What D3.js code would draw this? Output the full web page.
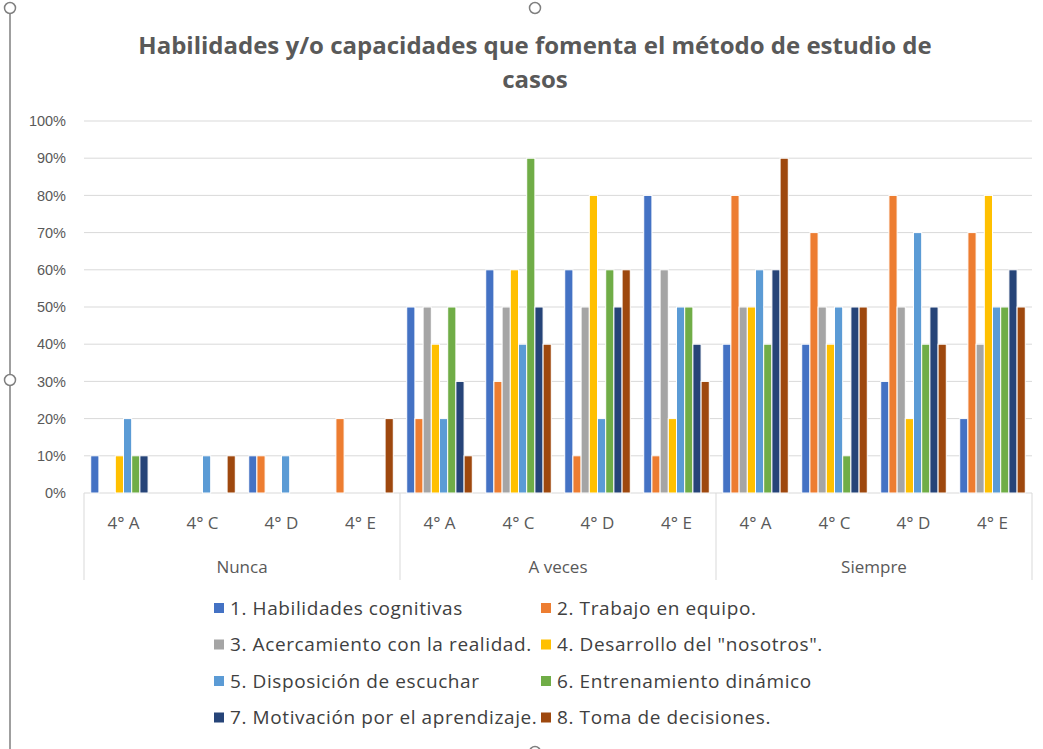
<!DOCTYPE html>
<html>
<head>
<meta charset="utf-8">
<script src="https://cdn.jsdelivr.net/npm/d3@7"></script>
<style>
  body { margin: 0; background: #fff; }
  svg { font-family: "Open Sans", "Noto Sans", sans-serif; }
  .yAxis text, .xAxis text { fill: #595959; }
</style>
</head>
<body>
<svg id="svg" width="1043" height="749"></svg>
<script>
const groups = ['Nunca', 'A veces', 'Siempre'];
const classes = ['4° A', '4° C', '4° D', '4° E'];
const series = [
    '1. Habilidades cognitivas',
    '2. Trabajo en equipo.',
    '3. Acercamiento con la realidad.',
    '4. Desarrollo del "nosotros".',
    '5. Disposición de escuchar',
    '6. Entrenamiento dinámico',
    '7. Motivación por el aprendizaje.',
    '8. Toma de decisiones.'
];
const yTicks = [0, 10, 20, 30, 40, 50, 60, 70, 80, 90, 100];

// values in %, one array per group, each row = one class (series 1..8)
const nunca = [
    [10, 0, 0, 10, 20, 10, 10, 0],
    [0, 0, 0, 0, 10, 0, 0, 10],
    [10, 10, 0, 0, 10, 0, 0, 0],
    [0, 20, 0, 0, 0, 0, 0, 20]
];
const aVeces = [
    [50, 20, 50, 40, 20, 50, 30, 10],
    [60, 30, 50, 60, 40, 90, 50, 40],
    [60, 10, 50, 80, 20, 60, 50, 60],
    [80, 10, 60, 20, 50, 50, 40, 30]
];
const siempre = [
    [40, 80, 50, 50, 60, 40, 60, 90],
    [40, 70, 50, 40, 50, 10, 50, 50],
    [30, 80, 50, 20, 70, 40, 50, 40],
    [20, 70, 40, 80, 50, 50, 60, 50]
];

const colors = ['#4472C4', '#ED7D31', '#A5A5A5', '#FFC000', '#5B9BD5', '#70AD47', '#264478', '#9E480E'];

const svg = d3.select('#svg');
const plot = {left: 84, right: 1032, top: 121, bottom: 493};

// flat category list
const cats = [];
[nunca, aVeces, siempre].forEach((g, gi) => {
    g.forEach((vals, ci) => {
        cats.push({key: groups[gi] + '|' + classes[ci], group: groups[gi], cls: classes[ci], vals: vals});
    });
});

const x0 = d3.scaleBand()
    .domain(cats.map(d => d.key))
    .range([plot.left, plot.right])
    .paddingInner(0.17)
    .paddingOuter(0.085);
const x1 = d3.scaleBand()
    .domain(d3.range(series.length))
    .range([0, x0.bandwidth()]);
const yScale = d3.scaleLinear()
    .domain([0, 100])
    .range([plot.bottom, plot.top]);

// chart frame / selection marks
svg.append('line')
    .attr('x1', 10).attr('x2', 10).attr('y1', 14).attr('y2', 749)
    .attr('stroke', '#7f7f7f').attr('stroke-width', 1.5);
[[10, 8], [535, 8], [10, 380], [535, 752]].forEach(p => {
    svg.append('circle')
        .attr('cx', p[0]).attr('cy', p[1]).attr('r', 5.5)
        .attr('fill', '#fff').attr('stroke', '#7f7f7f').attr('stroke-width', 1.5);
});

// title
const title = svg.append('text')
    .attr('text-anchor', 'middle')
    .attr('fill', '#595959')
    .style('font-size', '24px')
    .style('font-weight', 'bold');
title.append('tspan').attr('x', 535).attr('y', 54).text('Habilidades y/o capacidades que fomenta el método de estudio de');
title.append('tspan').attr('x', 535).attr('y', 88).text('casos');

// gridlines
svg.append('g')
    .selectAll('line')
    .data(yTicks)
    .enter()
    .append('line')
    .attr('x1', plot.left).attr('x2', plot.right)
    .attr('y1', d => yScale(d)).attr('y2', d => yScale(d))
    .attr('stroke', '#D9D9D9').attr('stroke-width', 1);

// yAxis
const yAxis = svg.append('g')
    .classed('yAxis', true)
    .attr('transform', 'translate(' + (plot.left - 18) + ',0)')
    .call(d3.axisLeft(yScale).tickValues(yTicks).tickFormat(d => d + '%').tickSize(0).tickPadding(0));
yAxis.select('.domain').remove();
yAxis.selectAll('text').style('font-size', '14.5px');

// bars
const catGrp = svg.append('g')
    .selectAll('g')
    .data(cats)
    .enter()
    .append('g')
    .attr('transform', d => 'translate(' + x0(d.key) + ',0)');

catGrp.selectAll('rect')
    .data(d => d.vals.map((v, i) => ({i: i, v: v})))
    .enter()
    .append('rect')
    .filter(d => d.v > 0)
    .attr('x', d => x1(d.i))
    .attr('width', x1.bandwidth())
    .attr('y', d => yScale(d.v))
    .attr('height', d => yScale(0) - yScale(d.v))
    .attr('fill', d => colors[d.i])
    .attr('stroke', '#fff')
    .attr('stroke-width', 1);

// multi-level category axis
const step = (plot.right - plot.left) / groups.length;
const xAxis = svg.append('g').classed('xAxis', true);
d3.range(groups.length + 1).forEach(i => {
    xAxis.append('line')
        .attr('x1', plot.left + i * step).attr('x2', plot.left + i * step)
        .attr('y1', plot.bottom).attr('y2', 580)
        .attr('stroke', '#D9D9D9');
});
xAxis.selectAll('.cls')
    .data(cats)
    .enter()
    .append('text')
    .attr('class', 'cls')
    .attr('x', d => x0(d.key) + x0.bandwidth() / 2)
    .attr('y', 529)
    .attr('text-anchor', 'middle')
    .style('font-size', '17px')
    .text(d => d.cls);
xAxis.selectAll('.grp')
    .data(groups)
    .enter()
    .append('text')
    .attr('class', 'grp')
    .attr('x', (d, i) => plot.left + (i + 0.5) * step)
    .attr('y', 573)
    .attr('text-anchor', 'middle')
    .style('font-size', '17px')
    .text(d => d);

// legend
const legend = svg.append('g')
    .selectAll('g')
    .data(series)
    .enter()
    .append('g')
    .attr('transform', (d, i) => 'translate(' + (i % 2 === 0 ? 214 : 541) + ',' + (608 + Math.floor(i / 2) * 36.5) + ')');
legend.append('rect')
    .attr('x', 0).attr('y', -5)
    .attr('width', 10).attr('height', 10)
    .attr('fill', (d, i) => colors[i]);
legend.append('text')
    .attr('x', 16).attr('y', 6.5)
    .attr('fill', '#404040')
    .style('font-size', '19px')
    .style('letter-spacing', '0.6px')
    .text(d => d);
</script>
</body>
</html>
